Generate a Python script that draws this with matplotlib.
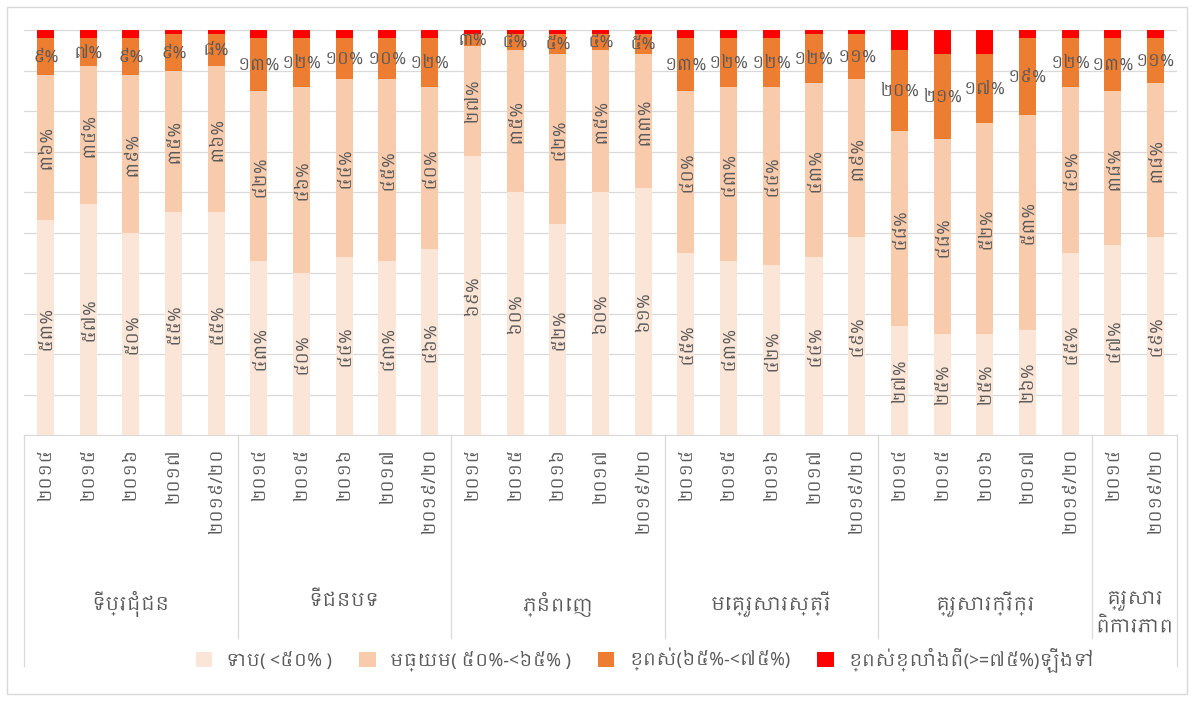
import matplotlib
matplotlib.use("Agg")
import matplotlib.pyplot as plt
import matplotlib.transforms as mtransforms
from matplotlib import font_manager
from matplotlib.ft2font import FT2Font
from matplotlib.patches import Patch, Rectangle
import numpy as np

# data
groups = ["ទីប្រជុំជន", "ទីជនបទ", "ភ្នំពេញ", "មេគ្រួសារស្ត្រី", "គ្រួសារក្រីក្រ", "គ្រួសារ\nពិការភាព"]
years_full = ["២០១៤", "២០១៥", "២០១៦", "២០១៧", "២០១៩/២០"]
years_short = ["២០១៤", "២០១៩/២០"]
group_years = [years_full, years_full, years_full, years_full, years_full, years_short]

low = [53, 57, 50, 55, 55, 43, 40, 44, 43, 46, 69, 60, 52, 60, 61,
       45, 43, 42, 44, 49, 27, 25, 25, 26, 45, 47, 49]
medium = [36, 34, 39, 35, 36, 42, 46, 44, 45, 40, 27, 35, 42, 35, 33,
          40, 43, 44, 43, 39, 48, 48, 52, 53, 41, 38, 38]
high = [9, 7, 9, 9, 8, 13, 12, 10, 10, 12, 3, 4, 5, 4, 5,
        13, 12, 12, 12, 11, 20, 21, 17, 19, 12, 13, 11]
very_high = [2, 2, 2, 1, 1, 2, 2, 2, 2, 2, 1, 1, 1, 1, 1,
             2, 2, 2, 1, 1, 5, 6, 6, 2, 2, 2, 2]

series_names = ["ទាប( <៥០% )", "មធ្យម( ៥០%-<៦៥% )", "ខ្ពស់(៦៥%-<៧៥%)", "ខ្ពស់ខ្លាំងពី(>=៧៥%)ឡើងទៅ"]
colors = ["#FBE5D6", "#F8CBAD", "#ED7D31", "#FF0000"]

# find a font that has khmer glyphs
khmer_font = None
for f in font_manager.fontManager.ttflist:
    if "khmer" in f.name.lower():
        khmer_font = f.name
        break
if khmer_font is None:
    for f in font_manager.fontManager.ttflist:
        try:
            if 0x1780 in FT2Font(f.fname).get_charmap():
                khmer_font = f.name
                break
        except Exception:
            pass
fams = [khmer_font, "DejaVu Sans"] if khmer_font else ["DejaVu Sans"]
plt.rcParams["font.family"] = fams

KH = str.maketrans("0123456789", "០១២៣៤៥៦៧៨៩")
def kh(v):
    return (str(v) + "%").translate(KH)

txt_col = "#595959"
line_col = "#D9D9D9"

fig = plt.figure(figsize=(11.94, 7.02), dpi=100)
ax = fig.add_axes([24 / 1194, 1 - 435 / 702, 1153 / 1194, 405 / 702])

n = len(low)
x = np.arange(n)
width = 0.4
data = [low, medium, high, very_high]
bottom = np.zeros(n)
for vals, col, name in zip(data, colors, series_names):
    ax.bar(x, vals, width, bottom=bottom, color=col, label=name, zorder=3)
    bottom += np.array(vals)

# value labels
cum = np.zeros(n)
for k, vals in enumerate(data):
    for i, v in enumerate(vals):
        mid = cum[i] + v / 2
        if k < 2:
            ax.text(x[i], mid, kh(v), rotation=90, ha="center", va="center",
                    fontsize=12.5, color=txt_col, zorder=4)
        elif k == 2:
            ax.text(x[i], mid, kh(v), ha="center", va="center",
                    fontsize=12, color=txt_col, zorder=4)
    cum += np.array(vals)

ax.set_xlim(-0.5, n - 0.5)
ax.set_ylim(0, 100)
ax.set_yticks(np.arange(0, 101, 10))
ax.yaxis.grid(True, color=line_col, linewidth=0.9, zorder=0)
ax.tick_params(left=False, labelleft=False, bottom=False, labelbottom=False)
for s in ["top", "left", "right"]:
    ax.spines[s].set_visible(False)
ax.spines["bottom"].set_color(line_col)

# multi level category axis
trans = mtransforms.blended_transform_factory(ax.transData, ax.transAxes)
pos = 0
edges = [-0.5]
for g, yrs in zip(groups, group_years):
    for j, y in enumerate(yrs):
        ax.text(pos + j, -0.03, y, rotation=90, ha="center", va="top",
                fontsize=12.5, color=txt_col, transform=trans)
    ax.text(pos + (len(yrs) - 1) / 2, -0.385, g, ha="center", va="top",
            fontsize=13.5, color=txt_col, transform=trans, linespacing=1.4)
    pos += len(yrs)
    edges.append(pos - 0.5)
for k, e in enumerate(edges):
    depth = -0.57 if k in (0, len(edges) - 1) else -0.5
    ax.plot([e, e], [0, depth], color=line_col, lw=0.9, transform=trans, clip_on=False)

handles = [Patch(facecolor=c, label=s) for c, s in zip(colors, series_names)]
fig.legend(handles=handles, loc="center", bbox_to_anchor=(0.54, 0.06), ncol=4,
           frameon=False, fontsize=13, handlelength=0.9, handleheight=0.9,
           columnspacing=1.5, labelcolor=txt_col)

fig.patches.append(Rectangle((0.006, 0.012), 0.988, 0.978, transform=fig.transFigure,
                             fill=False, edgecolor=line_col, lw=1))

fig.savefig("out.png", dpi=100)
